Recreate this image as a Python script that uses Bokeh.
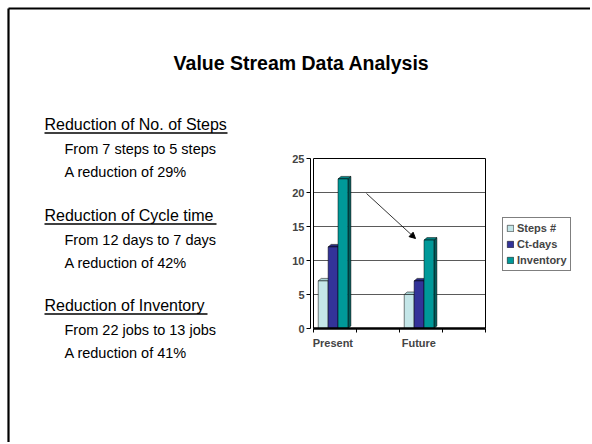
from bokeh.plotting import figure
from bokeh.models import (Range1d, FixedTicker, Arrow, NormalHead, Legend, LegendItem,
                          LinearAxis)
from bokeh.core.properties import value
from bokeh.embed import file_html
from bokeh.resources import INLINE

# ---------------- data ----------------
categories = ["Present", "Future"]
cat_pos = [0.0, 2.0]            # slot start of each category on the 4-slot axis
n_slots = 4
series = ["Steps #", "Ct-days", "Inventory"]
steps = [7, 5]
ct_days = [12, 7]
inventory = [22, 13]
y_ticks = [0, 5, 10, 15, 20, 25]

title_text = "Value Stream Data Analysis"
headings = ["Reduction of No. of Steps", "Reduction of Cycle time", "Reduction of Inventory"]
line1 = ["From 7 steps to 5 steps", "From 12 days to 7 days", "From 22 jobs to 13 jobs"]
line2 = ["A  reduction of 29%", "A reduction of 42%", "A reduction of 41%"]

front_cols = ["#C4E6E8", "#333399", "#009999"]
side_cols = ["#7FA9AB", "#1C1C5E", "#005C5C"]
top_cols = ["#A9D3D5", "#2A2A80", "#008383"]
FONT = "Liberation Sans"

# ---------------- layout constants (picture pixels) ----------------
W, H = 590, 442
PAGE_L, PAGE_T = 0, 0
FR_L, FR_R, FR_T, FR_B = 313, 485, 158, 328      # chart plot area
ppx = (FR_R - FR_L) / n_slots                     # pixels per x unit
ppy = (FR_B - FR_T) / y_ticks[-1]                 # pixels per y unit

x_lo = (PAGE_L - FR_L) / ppx
x_hi = (PAGE_L + W - FR_L) / ppx
y_lo = (FR_B - (PAGE_T + H)) / ppy
y_hi = (FR_B - PAGE_T) / ppy

p = figure(width=W, height=H, output_backend="svg", toolbar_location=None,
           x_range=Range1d(x_lo, x_hi), y_range=Range1d(y_lo, y_hi),
           x_axis_type=None, y_axis_type=None, min_border=0)
p.xgrid.visible = False
p.ygrid.visible = False
p.outline_line_color = None
p.background_fill_color = "white"
p.border_fill_color = "white"
# picture-pixel coordinate system for the slide texts
p.extra_x_ranges = {"page": Range1d(PAGE_L, PAGE_L + W)}
p.extra_y_ranges = {"page": Range1d(start=PAGE_T + H, end=PAGE_T)}

# ---------------- slide frame ----------------
p.segment(x0=[8, 8], y0=[8, 8], x1=[620, 8], y1=[8, 460], line_color="black", line_width=2.2,
          x_range_name="page", y_range_name="page")

# ---------------- texts ----------------
p.text(x=[301], y=[62], text=[title_text], text_font=value(FONT),
       text_font_style=value("bold"), text_font_size=value("19.5px"),
       text_align="center", text_baseline="middle", text_color="black",
       x_range_name="page", y_range_name="page")

head_y = [124, 215, 305]
p.text(x=[44] * 3, y=head_y, text=headings, text_font=value(FONT),
       text_font_size=value("16px"), text_baseline="middle", text_color="black",
       x_range_name="page", y_range_name="page")
p.text(x=[64] * 3, y=[h + 24 for h in head_y], text=line1, text_font=value(FONT),
       text_font_size=value("14.5px"), text_baseline="middle", text_color="black",
       x_range_name="page", y_range_name="page")
p.text(x=[64] * 3, y=[h + 47 for h in head_y], text=line2, text_font=value(FONT),
       text_font_size=value("14.5px"), text_baseline="middle", text_color="black",
       x_range_name="page", y_range_name="page")
under_len = [183, 172, 163]
p.segment(x0=[44] * 3, y0=[h + 8.5 for h in head_y],
          x1=[44 + u for u in under_len], y1=[h + 8.5 for h in head_y],
          line_color="black", line_width=1.3, x_range_name="page", y_range_name="page")

# ---------------- chart axes ----------------
yax = LinearAxis(ticker=FixedTicker(ticks=y_ticks), fixed_location=-3 / ppx,
                 bounds=(y_ticks[0], y_ticks[-1]))
yax.axis_line_color = "black"
yax.axis_line_width = 1
yax.major_tick_line_color = "black"
yax.major_tick_out = 4
yax.major_tick_in = 0
yax.minor_tick_line_color = None
yax.major_label_text_font = FONT
yax.major_label_text_font_style = "bold"
yax.major_label_text_font_size = "11px"
yax.major_label_standoff = 2
p.add_layout(yax, "left")

xax = LinearAxis(ticker=FixedTicker(ticks=[c + 0.45 for c in cat_pos],
                                    minor_ticks=list(range(n_slots + 1))),
                 fixed_location=0, bounds=(0, n_slots))
xax.major_label_overrides = {c + 0.45: lab for c, lab in zip(cat_pos, categories)}
xax.axis_line_color = "black"
xax.axis_line_width = 2.5
xax.major_tick_line_color = None
xax.major_tick_out = 4
xax.major_tick_in = 0
xax.minor_tick_line_color = "black"
xax.minor_tick_out = 4
xax.minor_tick_in = 0
xax.major_label_text_font = FONT
xax.major_label_text_font_style = "bold"
xax.major_label_text_font_size = "11px"
xax.major_label_standoff = 4
p.add_layout(xax, "below")

# plot-area walls and gridlines
gy = y_ticks[1:-1]
p.segment(x0=[0] * len(gy), y0=gy, x1=[n_slots] * len(gy), y1=gy, line_color="#5A5A5A", line_width=1)
p.segment(x0=[0, 0, n_slots], y0=[0, y_ticks[-1], 0], x1=[0, n_slots, n_slots],
          y1=[y_ticks[-1], y_ticks[-1], y_ticks[-1]], line_color="black", line_width=1)

# ---------------- bars (pseudo 3D) ----------------
bar_w = 0.23
bar_start = 0.11
dx = 3 / ppx
dy = 2.5 / ppy
values = [steps, ct_days, inventory]
legend_items = []
for si, (name, vals) in enumerate(zip(series, values)):
    x0 = [c + bar_start + si * bar_w for c in cat_pos]
    x1 = [a + bar_w for a in x0]
    side_xs = [[b, b + dx, b + dx, b] for b in x1]
    side_ys = [[0, dy, v + dy, v] for v in vals]
    p.patches(side_xs, side_ys, fill_color=side_cols[si], line_color="black", line_width=0.5)
    top_xs = [[a, a + dx, b + dx, b] for a, b in zip(x0, x1)]
    top_ys = [[v, v + dy, v + dy, v] for v in vals]
    p.patches(top_xs, top_ys, fill_color=top_cols[si], line_color="black", line_width=0.5)
    r = p.quad(left=x0, right=x1, bottom=[0] * len(vals), top=vals,
               fill_color=front_cols[si], line_color="black", line_width=0.5)
    legend_items.append(LegendItem(label=name, renderers=[r]))

legend = Legend(items=legend_items, location=(502 - PAGE_L, PAGE_T + H - 271))
legend.label_text_font = FONT
legend.label_text_font_style = "bold"
legend.label_text_font_size = "11px"
legend.label_height = 14
legend.glyph_width = 8
legend.glyph_height = 8
legend.label_standoff = 3
legend.spacing = 2
legend.padding = 3
legend.margin = 0
legend.border_line_color = "black"
legend.border_line_width = 1
legend.background_fill_alpha = 1
p.add_layout(legend, "center")

# arrow Present -> Future
p.add_layout(Arrow(end=NormalHead(size=6, fill_color="black", line_color="black"),
                   x_start=366, y_start=193, x_end=415, y_end=238,
                   x_range_name="page", y_range_name="page",
                   line_color="black", line_width=0.8))

open("out.html", "w").write(file_html(p, INLINE))
